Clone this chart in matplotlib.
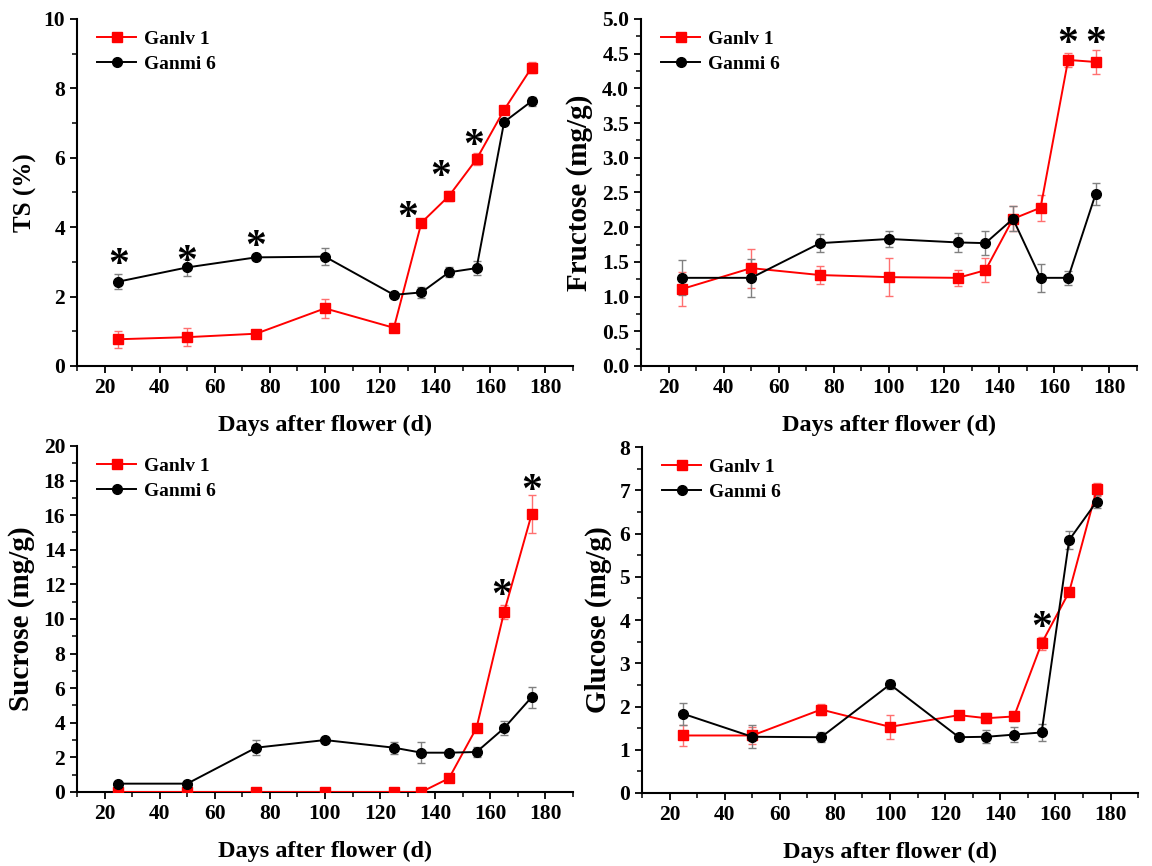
import matplotlib
matplotlib.use("Agg")
import matplotlib.pyplot as plt
import matplotlib.transforms as mtransforms
from matplotlib.ticker import MultipleLocator

plt.rcParams["font.family"] = ["Liberation Serif", "DejaVu Serif"]
plt.rcParams["font.weight"] = "bold"

days = [25, 50, 75, 100, 125, 135, 145, 155, 165, 175]

# Total sugar (%)
ts_ganlv = [0.77, 0.83, 0.93, 1.66, 1.10, 4.13, 4.90, 5.96, 7.38, 8.60]
ts_ganlv_err = [0.24, 0.25, 0.08, 0.27, 0.10, 0.10, 0.15, 0.18, 0.10, 0.15]
ts_ganmi = [2.43, 2.84, 3.13, 3.15, 2.05, 2.12, 2.70, 2.82, 7.03, 7.63]
ts_ganmi_err = [0.22, 0.25, 0.07, 0.24, 0.05, 0.16, 0.15, 0.20, 0.05, 0.13]
ts_stars_x = [25, 50, 75, 130, 142, 154]
ts_stars_y = [3.15, 3.25, 3.68, 4.52, 5.70, 6.60]

# Fructose (mg/g)
fru_ganlv = [1.11, 1.41, 1.31, 1.28, 1.27, 1.38, 2.12, 2.28, 4.41, 4.38]
fru_ganlv_err = [0.25, 0.28, 0.13, 0.27, 0.12, 0.17, 0.18, 0.19, 0.10, 0.17]
fru_ganmi = [1.27, 1.27, 1.77, 1.83, 1.78, 1.77, 2.12, 1.27, 1.27, 2.48]
fru_ganmi_err = [0.25, 0.27, 0.13, 0.12, 0.14, 0.17, 0.18, 0.20, 0.10, 0.16]
fru_stars_x = [165, 175]
fru_stars_y = [4.76, 4.76]

# Sucrose (mg/g)
suc_ganlv = [0.0, 0.0, 0.0, 0.0, 0.0, 0.0, 0.79, 3.71, 10.4, 16.06]
suc_ganlv_err = [0.05, 0.05, 0.05, 0.05, 0.05, 0.05, 0.10, 0.20, 0.40, 1.10]
suc_ganmi = [0.48, 0.48, 2.56, 3.00, 2.56, 2.27, 2.27, 2.31, 3.69, 5.48]
suc_ganmi_err = [0.10, 0.10, 0.42, 0.10, 0.35, 0.60, 0.10, 0.30, 0.40, 0.60]
suc_stars_x = [164, 175]
suc_stars_y = [11.85, 17.9]

# Glucose (mg/g)
glu_ganlv = [1.33, 1.33, 1.93, 1.53, 1.80, 1.73, 1.77, 3.46, 4.65, 7.02]
glu_ganlv_err = [0.24, 0.20, 0.12, 0.28, 0.10, 0.12, 0.10, 0.15, 0.05, 0.15]
glu_ganmi = [1.83, 1.30, 1.29, 2.51, 1.29, 1.30, 1.35, 1.40, 5.85, 6.74]
glu_ganmi_err = [0.25, 0.27, 0.12, 0.10, 0.08, 0.15, 0.18, 0.20, 0.20, 0.15]
glu_stars_x = [155]
glu_stars_y = [4.01]

panels = [
    # rect, ylabel, label size, label x, ylim, major, minor, data..., stars, fmt
    ([0.0668, 0.5774, 0.4306, 0.4007], "TS (%)", 18, -0.081, (0, 10), 2, 1,
     ts_ganlv, ts_ganlv_err, ts_ganmi, ts_ganmi_err, (ts_stars_x, ts_stars_y), "{:.0f}"),
    ([0.5564, 0.5774, 0.4306, 0.4007], "Fructose (mg/g)", 21, -0.097, (0, 5), 0.5, 0.25,
     fru_ganlv, fru_ganlv_err, fru_ganmi, fru_ganmi_err, (fru_stars_x, fru_stars_y), "{:.1f}"),
    ([0.0668, 0.0855, 0.4306, 0.3995], "Sucrose (mg/g)", 21, -0.085, (0, 20), 2, 1,
     suc_ganlv, suc_ganlv_err, suc_ganmi, suc_ganmi_err, (suc_stars_x, suc_stars_y), "{:.0f}"),
    ([0.5573, 0.0843, 0.4306, 0.3995], "Glucose (mg/g)", 21, -0.060, (0, 8), 1, 0.5,
     glu_ganlv, glu_ganlv_err, glu_ganmi, glu_ganmi_err, (glu_stars_x, glu_stars_y), "{:.0f}"),
]

fig = plt.figure(figsize=(11.52, 8.66), dpi=100)

for rect, ylabel, ysize, ylx, ylim, major, minor, g1, g1e, g6, g6e, stars, fmt in panels:
    ax = fig.add_axes(rect)
    eb1 = ax.errorbar(days, g1, yerr=g1e, color="#ff0000", marker="s", markersize=7,
                      linewidth=1.4, ecolor="#ff7070", elinewidth=1.0, capsize=3,
                      zorder=3)
    eb2 = ax.errorbar(days, g6, yerr=g6e, color="black", marker="o", markersize=7,
                      linewidth=1.4, ecolor="#808080", elinewidth=1.0, capsize=3,
                      zorder=3)
    # star glyph sits high in its box; nudge it down
    star_tf = mtransforms.offset_copy(ax.transData, fig=fig, y=-7, units="points")
    for sx, sy in zip(*stars):
        ax.text(sx, sy, "*", fontsize=30, ha="center", va="center",
                fontweight="bold", color="black", transform=star_tf)

    ax.set_xlim(10, 190)
    ax.set_ylim(*ylim)
    ax.xaxis.set_major_locator(MultipleLocator(20))
    ax.xaxis.set_minor_locator(MultipleLocator(10))
    ax.yaxis.set_major_locator(MultipleLocator(major))
    ax.yaxis.set_minor_locator(MultipleLocator(minor))
    ax.set_xticks(range(20, 181, 20))
    ax.set_yticklabels([fmt.format(v) for v in ax.get_yticks()])
    for s in ["top", "right"]:
        ax.spines[s].set_visible(False)
    for s in ["left", "bottom"]:
        ax.spines[s].set_linewidth(1.5)
    ax.tick_params(which="major", direction="out", length=5, width=1.3,
                   labelsize=15.5)
    ax.tick_params(which="minor", direction="out", length=3.5, width=1.1)
    for lab in ax.get_xticklabels() + ax.get_yticklabels():
        lab.set_fontweight("bold")

    ax.set_xlabel("Days after flower (d)", fontsize=17.5, fontweight="bold",
                  labelpad=12)
    ax.set_ylabel(ylabel, fontsize=ysize, fontweight="bold")
    ax.yaxis.set_label_coords(ylx, 0.5)
    ax.legend(handles=[eb1.lines[0], eb2.lines[0]], labels=["Ganlv 1", "Ganmi 6"],
              loc="upper left", bbox_to_anchor=(0.025, 0.99), frameon=False,
              handlelength=2.0, handletextpad=0.4, labelspacing=0.4,
              borderaxespad=0.0, prop={"weight": "bold", "size": 14})

fig.savefig("out.png", dpi=100)
